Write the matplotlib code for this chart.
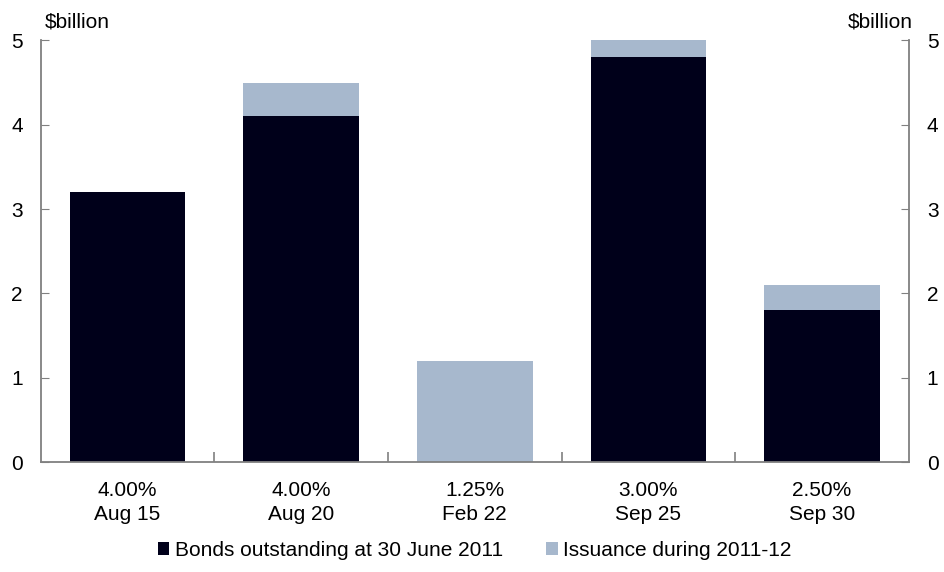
import matplotlib.pyplot as plt
import numpy as np

plt.rcParams['font.family'] = ['Liberation Sans', 'DejaVu Sans']

# --- Data ---
bond_labels = ["4.00%\nAug 15", "4.00%\nAug 20", "1.25%\nFeb 22", "3.00%\nSep 25", "2.50%\nSep 30"]
outstanding = [3.2, 4.1, 0.0, 4.8, 1.8]
issuance = [0.0, 0.4, 1.2, 0.23, 0.3]
y_ticks = [0, 1, 2, 3, 4, 5]

dark = "#00001a"
light = "#a7b8cd"
axis_col = "#808080"

fig = plt.figure(figsize=(9.45, 5.72), dpi=100)
ax = fig.add_axes([0.0431, 0.1923, 0.9185, 0.7369])

x = np.arange(len(bond_labels))
ax.bar(x, outstanding, width=0.666, color=dark, label="Bonds outstanding at 30 June 2011")
ax.bar(x, issuance, width=0.666, bottom=outstanding, color=light, label="Issuance during 2011-12")

ax.set_xlim(-0.5, len(bond_labels) - 0.5)
ax.set_ylim(0, 5)
ax.set_yticks(y_ticks)
ax.tick_params(axis='y', direction='in', length=6, color=axis_col, labelsize=15,
               pad=13, left=True, right=True, labelleft=True, labelright=True)

# category labels without tick marks, tick marks at category boundaries
ax.set_xticks(x)
ax.set_xticklabels(bond_labels, fontsize=15, linespacing=1.3)
ax.tick_params(axis='x', which='major', length=0, pad=14)
ax.set_xticks(np.arange(0.5, len(bond_labels) - 0.5, 1.0), minor=True)
ax.tick_params(axis='x', which='minor', direction='in', length=7, width=1.2, color=axis_col)

ax.spines['top'].set_visible(False)
for side in ['left', 'right', 'bottom']:
    ax.spines[side].set_color(axis_col)
    ax.spines[side].set_linewidth(1.3)

fig.text(0.047, 0.962, "$billion", fontsize=15, ha='left', va='center')
fig.text(0.966, 0.962, "$billion", fontsize=15, ha='right', va='center')

ax.legend(loc='center', bbox_to_anchor=(0.5, -0.209), ncol=2, frameon=False,
          fontsize=15, handlelength=0.55, handleheight=0.55, handletextpad=0.25,
          columnspacing=2.1)

fig.savefig("out.png", dpi=100)
